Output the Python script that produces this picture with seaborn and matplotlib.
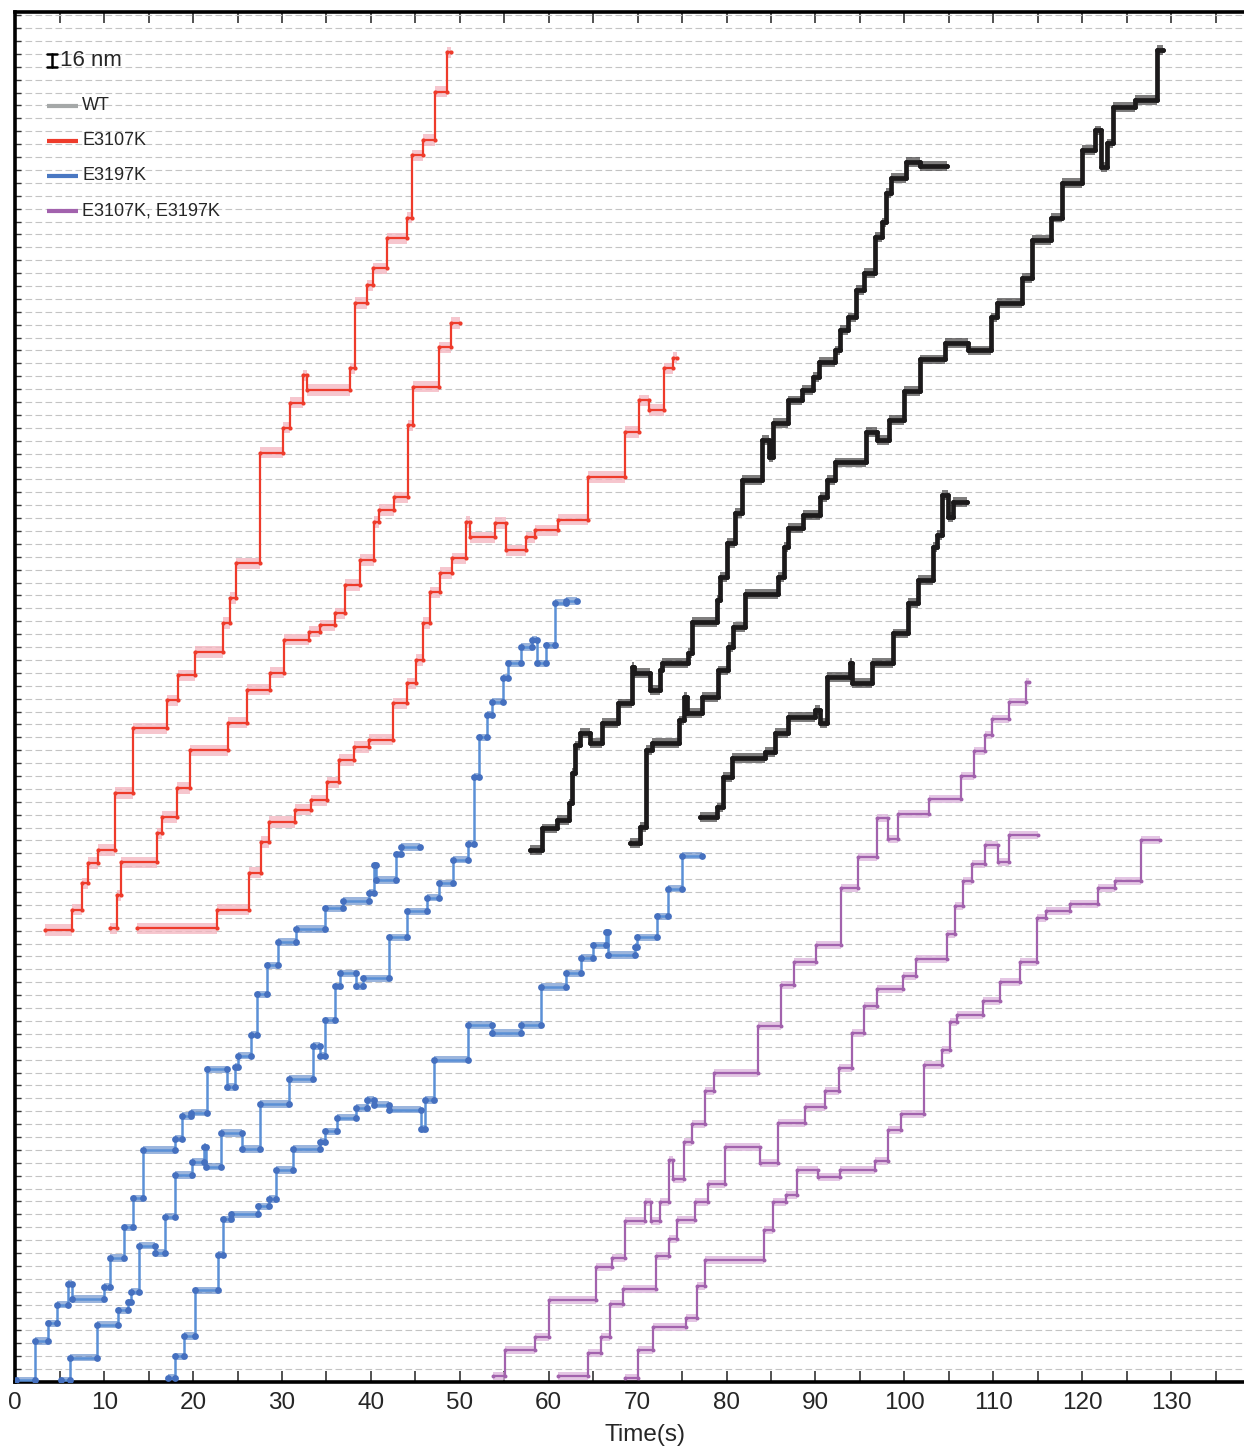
import numpy as np
import pandas as pd
import matplotlib
matplotlib.use("Agg")
import matplotlib.pyplot as plt
import matplotlib.transforms as mtransforms
from matplotlib.ticker import MultipleLocator
import seaborn as sns

# Step traces: dwell start times in s (last entry = end of trace) and dwell positions in nm.
e3107k_1_time = [3.34, 6.38, 7.50, 8.18, 9.30, 11.22, 13.24, 17.07, 18.30, 20.22, 23.37, 24.15, 24.83, 27.53,
                 30.12, 30.90, 32.37, 32.82, 37.65, 38.22, 39.57, 40.24, 41.82, 44.06, 44.63, 45.86, 47.21,
                 48.56, 49.01]
e3107k_1_nm = [561, 586, 619, 644, 660, 731, 811, 846, 877, 906, 942, 973, 1016, 1153, 1184, 1215, 1249, 1231,
               1258, 1339, 1361, 1382, 1419, 1445, 1522, 1541, 1601, 1650]

e3107k_2_time = [10.65, 11.44, 11.89, 15.94, 16.50, 18.19, 19.65, 23.93, 26.07, 28.65, 30.23, 33.04, 34.28,
                 35.97, 37.09, 38.78, 40.35, 40.92, 42.60, 44.18, 44.74, 47.67, 49.02, 50.03]
e3107k_2_nm = [563, 604, 645, 681, 701, 737, 784, 818, 859, 880, 921, 931, 939, 954, 989, 1020, 1067, 1082, 1098,
               1187, 1235, 1284, 1314]

e3107k_3_time = [13.69, 22.69, 26.29, 27.64, 28.54, 31.47, 33.27, 35.07, 36.42, 38.10, 39.79, 42.49, 44.07,
                 45.08, 45.87, 46.65, 47.78, 49.13, 50.70, 51.15, 53.97, 55.20, 57.45, 58.47, 61.05, 64.43,
                 68.59, 70.17, 71.29, 72.98, 73.99, 74.44]
e3107k_3_nm = [563, 586, 632, 670, 695, 710, 722, 744, 772, 788, 797, 842, 867, 896, 942, 980, 1004, 1022, 1067,
               1048, 1066, 1032, 1048, 1057, 1070, 1123, 1179, 1218, 1206, 1258, 1271]

e3197k_1_time = [0.08, 2.22, 3.68, 4.69, 5.93, 6.38, 9.98, 10.65, 12.23, 13.24, 14.37, 17.97, 18.75, 19.77,
                 21.57, 23.82, 24.72, 25.05, 26.52, 27.19, 28.32, 29.55, 31.58, 34.84, 36.87, 39.79, 40.35,
                 40.58, 42.83, 43.39, 45.53]
e3197k_1_nm = [2, 51, 73, 96, 122, 103, 118, 154, 192, 228, 288, 302, 330, 334, 388, 366, 391, 405, 431, 481,
               517, 546, 562, 588, 597, 607, 641, 623, 655, 664]

e3197k_2_time = [5.14, 6.15, 9.19, 11.55, 12.68, 13.02, 13.92, 15.72, 16.84, 17.97, 19.88, 21.23, 21.45, 23.14,
                 25.50, 27.53, 30.79, 33.49, 34.28, 34.84, 35.97, 36.53, 38.33, 39.12, 42.04, 44.07, 46.32,
                 47.67, 49.24, 50.93, 51.60, 52.17, 53.07, 53.63, 54.87, 55.43, 56.89, 58.13, 58.69, 59.70,
                 60.72, 61.95, 63.19]
e3197k_2_nm = [2, 30, 71, 89, 99, 112, 169, 160, 205, 257, 273, 292, 267, 309, 289, 345, 376, 417, 405, 449, 491,
               507, 491, 501, 552, 584, 601, 619, 648, 668, 751, 800, 828, 844, 874, 892, 912, 921, 892, 914,
               967, 969]

e3197k_3_time = [17.18, 17.97, 18.98, 20.22, 22.80, 23.37, 24.27, 27.30, 28.54, 29.33, 31.24, 34.28, 34.84,
                 36.19, 38.33, 39.57, 40.35, 42.04, 45.64, 46.09, 47.10, 50.93, 53.63, 56.89, 59.14, 61.95,
                 63.64, 64.99, 66.45, 66.68, 69.72, 69.94, 72.19, 73.43, 75.00, 77.25]
e3197k_3_nm = [5, 32, 57, 114, 158, 202, 208, 218, 227, 263, 289, 298, 311, 328, 340, 350, 344, 338, 314, 350,
               400, 443, 433, 443, 490, 507, 526, 542, 558, 530, 540, 552, 578, 612, 653]

wt_1_time = [57.90, 59.25, 60.94, 62.29, 62.63, 62.97, 63.53, 64.65, 66.00, 67.80, 69.38, 69.60, 71.40, 72.53,
             72.75, 75.68, 76.13, 78.94, 79.28, 80.07, 80.97, 81.75, 84.00, 84.79, 85.24, 86.93, 88.50, 89.74,
             90.42, 92.22, 92.78, 93.68, 94.58, 95.48, 96.72, 97.50, 97.95, 98.52, 100.20, 101.78, 104.82]
wt_1_nm = [660, 687, 697, 718, 756, 790, 805, 793, 818, 842, 887, 880, 859, 883, 892, 905, 943, 970, 999, 1041,
           1078, 1119, 1169, 1148, 1190, 1218, 1231, 1247, 1266, 1280, 1305, 1321, 1355, 1376, 1421, 1439, 1475,
           1494, 1514, 1509]

wt_2_time = [69.15, 70.28, 70.95, 71.63, 74.67, 75.23, 75.57, 77.25, 79.05, 80.18, 80.74, 82.09, 85.80, 86.48,
             86.93, 88.62, 90.53, 91.32, 92.22, 95.70, 96.94, 98.29, 99.98, 101.78, 104.59, 107.18, 109.77,
             110.44, 113.25, 114.38, 116.52, 117.75, 120.00, 121.47, 122.14, 122.82, 123.49, 125.97, 128.44,
             129.12]
wt_2_nm = [669, 689, 784, 793, 821, 850, 830, 850, 883, 912, 937, 978, 999, 1036, 1060, 1076, 1098, 1119, 1141,
           1179, 1169, 1194, 1230, 1269, 1289, 1280, 1321, 1339, 1370, 1417, 1445, 1488, 1529, 1553, 1508, 1537,
           1582, 1591, 1653]

wt_3_time = [77.03, 78.94, 79.62, 80.63, 84.34, 85.47, 86.93, 89.97, 90.53, 91.32, 93.90, 94.13, 96.38, 98.74,
             100.43, 101.55, 103.24, 103.69, 104.25, 104.93, 105.49, 107.07]
wt_3_nm = [701, 713, 751, 774, 782, 805, 825, 834, 818, 875, 892, 867, 892, 929, 967, 995, 1036, 1051, 1101,
           1073, 1092]

double_1_time = [53.74, 55.09, 58.47, 60.04, 65.33, 67.13, 68.59, 70.84, 71.52, 72.53, 73.54, 73.99, 75.23,
                 76.13, 77.59, 78.60, 83.55, 86.14, 87.60, 90.08, 92.89, 94.80, 96.94, 98.18, 99.30, 102.79,
                 106.39, 107.85, 109.09, 109.88, 111.79, 113.70, 114.04]
double_1_nm = [7, 40, 56, 102, 143, 154, 200, 223, 200, 223, 275, 252, 298, 320, 361, 383, 442, 493, 521, 542,
               613, 651, 700, 674, 705, 723, 752, 783, 803, 823, 844, 869]

double_2_time = [61.05, 64.43, 65.89, 66.90, 68.37, 72.08, 73.54, 74.44, 76.47, 77.93, 79.84, 83.78, 85.80,
                 88.84, 91.09, 92.67, 94.13, 95.48, 96.94, 99.87, 101.33, 104.82, 105.72, 106.62, 107.63,
                 109.09, 110.55, 111.79, 115.05]
double_2_nm = [7, 36, 56, 97, 115, 156, 177, 201, 223, 246, 292, 272, 321, 341, 361, 390, 433, 467, 488, 504,
               525, 556, 591, 622, 643, 666, 645, 679]

double_3_time = [68.59, 70.05, 71.74, 75.45, 76.69, 77.59, 84.23, 85.24, 86.70, 87.94, 90.30, 92.78, 96.72,
                 98.18, 99.64, 102.23, 104.25, 105.15, 105.94, 108.87, 110.78, 113.03, 114.94, 115.95, 118.65,
                 121.80, 123.72, 126.64, 128.78]
double_3_nm = [5, 40, 68, 79, 119, 151, 189, 223, 232, 263, 254, 263, 274, 313, 333, 393, 412, 447, 455, 473,
               496, 521, 576, 584, 593, 613, 622, 673]

genotypes = ["WT", "E3107K", "E3197K", "E3107K, E3197K"]
legend_colors = ["#a5a8a8", "#ee3b2b", "#4a78c2", "#a262ad"]

traces = [
    ("E3107K", e3107k_1_time, e3107k_1_nm),
    ("E3107K", e3107k_2_time, e3107k_2_nm),
    ("E3107K", e3107k_3_time, e3107k_3_nm),
    ("E3197K", e3197k_1_time, e3197k_1_nm),
    ("E3197K", e3197k_2_time, e3197k_2_nm),
    ("E3197K", e3197k_3_time, e3197k_3_nm),
    ("WT", wt_1_time, wt_1_nm),
    ("WT", wt_2_time, wt_2_nm),
    ("WT", wt_3_time, wt_3_nm),
    ("E3107K, E3197K", double_1_time, double_1_nm),
    ("E3107K, E3197K", double_2_time, double_2_nm),
    ("E3107K, E3197K", double_3_time, double_3_nm),
]

# per-genotype drawing style: step line, shaded dwell band, dwell markers
styles = {
    "E3107K": dict(line="#ee3b2b", lw=1.6, band="#f4b4be", band_alpha=0.75, half=7, dot="#ee3b2b", ms=9),
    "E3197K": dict(line="#5b90d6", lw=1.8, band="#4a78c2", band_alpha=0.55, half=4.5, dot="#4570bf", ms=24),
    "WT": dict(line="#1c1a1b", lw=3.4, band="#2a2829", band_alpha=0.6, half=6, dot="#1c1a1b", ms=12),
    "E3107K, E3197K": dict(line="#a262ad", lw=1.6, band="#dcb4dc", band_alpha=0.75, half=5, dot="#a262ad", ms=8),
}

rows = []
for i, (g, t, nm) in enumerate(traces):
    lv = list(nm) + [nm[-1]]
    for tt, yy in zip(t, lv):
        rows.append(dict(trace=i, genotype=g, time=tt, position=yy))
df = pd.DataFrame(rows)

sns.set_style("ticks")
plt.rcParams["font.family"] = ["Liberation Sans", "DejaVu Sans"]

fig = plt.figure(figsize=(12.44, 14.5), dpi=100)
ax = fig.add_axes([15.3 / 1244, 68 / 1450, (1244 - 15.3) / 1244, 1370 / 1450])

for i, sub in df.groupby("trace"):
    g = sub["genotype"].iloc[0]
    st = styles[g]
    x = sub["time"].to_numpy()
    y = sub["position"].to_numpy()
    ax.fill_between(x, y - st["half"], y + st["half"], step="post", color=st["band"],
                    alpha=st["band_alpha"], lw=0, zorder=2)
    sns.lineplot(data=sub, x="time", y="position", drawstyle="steps-post", color=st["line"],
                 lw=st["lw"], estimator=None, sort=False, ax=ax, zorder=3, legend=False)
    # markers at the start and the end of every dwell
    ends = pd.DataFrame({"time": x[1:], "position": y[:-1]})
    dwell_marks = pd.concat([sub.iloc[:-1][["time", "position"]], ends], ignore_index=True)
    sns.scatterplot(data=dwell_marks, x="time", y="position", color=st["dot"], s=st["ms"],
                    linewidth=0, ax=ax, zorder=4, legend=False)

ax.set_xlim(0, 138.2)
ax.set_ylim(0, 1700)
ax.set_xticks(np.arange(0, 131, 10))
ax.xaxis.set_minor_locator(MultipleLocator(5))
ax.set_yticks(np.arange(16, 1700, 16))
ax.set_yticklabels([])
ax.tick_params(axis="x", which="both", direction="in", length=8, width=1.2, color="#333333",
               top=True, bottom=True, labelsize=17.5, pad=7)
ax.tick_params(axis="y", which="both", direction="in", length=4, width=1.0, color="#333333", left=True)
ax.grid(axis="y", color="#c4c4c4", lw=0.8, ls=(0, (6, 3)))
ax.grid(axis="x", visible=False)
ax.set_axisbelow(True)
for side in ["left", "top", "bottom"]:
    ax.spines[side].set_linewidth(2.6)
    ax.spines[side].set_color("black")
ax.spines["right"].set_visible(False)
ax.set_ylabel("")
ax.set_xlabel("Time(s)", fontsize=17.5)
ax.xaxis.set_label_coords(0.5125, -0.031)

# 16 nm scale bar
trans = mtransforms.blended_transform_factory(ax.transAxes, ax.transData)
bx, by = 0.0299, 1631.5
ax.plot([bx, bx], [by, by + 16], transform=trans, color="black", lw=1.8, zorder=6)
for yy in (by, by + 16):
    ax.plot([bx - 0.004, bx + 0.004], [yy, yy], transform=trans, color="black", lw=1.8, zorder=6)
ax.text(0.0364, by + 8, "16 nm", transform=trans, fontsize=16, va="center", ha="left")

# genotype key
for k, (lab, col) in enumerate(zip(genotypes, legend_colors)):
    yk = 0.9314 - k * 0.02555
    ax.plot([0.0258, 0.051], [yk, yk], transform=ax.transAxes, color=col, lw=3, solid_capstyle="butt",
            zorder=6)
    ax.text(0.0543, yk, lab, transform=ax.transAxes, fontsize=13, va="center", ha="left")

fig.savefig("out.png", dpi=100)
